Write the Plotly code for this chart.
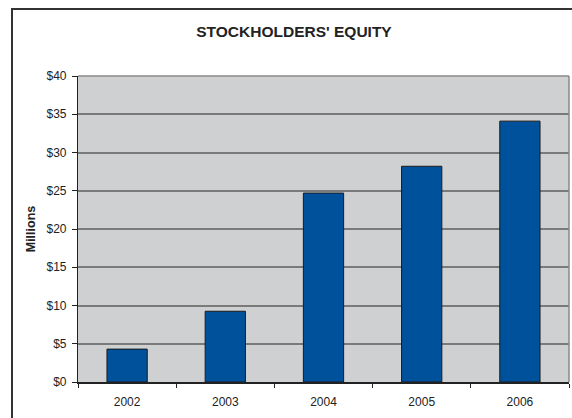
import plotly.graph_objects as go

years = ["2002", "2003", "2004", "2005", "2006"]
equity_millions = [4.3, 9.25, 24.7, 28.2, 34.1]
y_tick_values = [0, 5, 10, 15, 20, 25, 30, 35, 40]
y_tick_labels = ["$0", "$5", "$10", "$15", "$20", "$25", "$30", "$35", "$40"]

W, H = 572, 418
L, R, T, B = 78, 3, 76, 36
pw, ph = W - L - R, H - T - B

def px_x(x):
    return (x - L) / pw

def px_y(y):
    return (H - B - y) / ph

fig = go.Figure()
fig.add_trace(go.Bar(
    x=years, y=equity_millions,
    marker=dict(color="#00519B", line=dict(color="#1a1a1a", width=1)),
    width=0.41,
))

fig.update_layout(
    width=W, height=H,
    margin=dict(l=L, r=R, t=T, b=B),
    paper_bgcolor="white",
    plot_bgcolor="#CFD0D2",
    showlegend=False,
    font=dict(family="Liberation Sans, Arial, sans-serif", size=12, color="#222"),
    title=dict(text="<b>STOCKHOLDERS' EQUITY</b>", x=294 / W, xanchor="center",
               y=1 - 32 / H, yanchor="middle",
               font=dict(size=15.5, color="#222")),
    xaxis=dict(
        type="category", showgrid=False, tickson="boundaries",
        ticks="outside", ticklen=4, tickcolor="#222",
        showline=True, linecolor="#222", linewidth=1.5,
        mirror=False, tickfont=dict(size=12), ticklabelstandoff=8,
    ),
    yaxis=dict(
        range=[0, 40], tickvals=y_tick_values, ticktext=y_tick_labels,
        showgrid=True, gridcolor="#7a7a7a", gridwidth=1.5,
        ticks="outside", ticklen=5, tickcolor="#222",
        showline=True, linecolor="#222", linewidth=1.2,
        zeroline=False, tickfont=dict(size=12), ticklabelstandoff=3,
        title=dict(text="<b>Millions</b>", standoff=8, font=dict(size=12.5)),
    ),
    shapes=[
        dict(type="line", xref="paper", yref="paper", x0=0, x1=1, y0=1, y1=1,
             line=dict(color="#8a8a8a", width=1.5)),
        dict(type="line", xref="paper", yref="paper", x0=1, x1=1, y0=0, y1=1,
             line=dict(color="#8a8a8a", width=1.5)),
        dict(type="rect", xref="paper", yref="paper",
             x0=px_x(12), x1=px_x(590), y0=px_y(430), y1=px_y(9),
             line=dict(color="#333", width=2), fillcolor="rgba(0,0,0,0)", layer="above"),
    ],
)

fig.write_html("out.html", config={"displayModeBar": False},
               post_script="document.body.style.margin='0';document.body.style.overflow='hidden';")
